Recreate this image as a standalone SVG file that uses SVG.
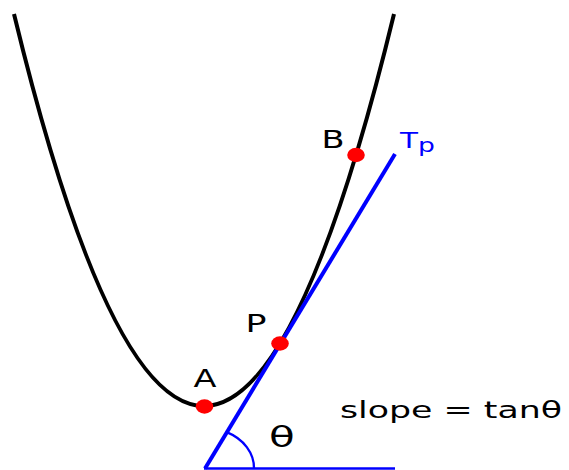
<svg xmlns="http://www.w3.org/2000/svg" width="569" height="470" viewBox="0 0 569 470">
<style>
.lbl{font-family:"DejaVu Sans","Liberation Sans",sans-serif;font-size:24px;fill:#000}
.blue{fill:#0000ff}
.curve{fill:none;stroke:#000;stroke-width:4}
.tan{fill:none;stroke:#0000ff;stroke-width:4}
.thin{fill:none;stroke:#0000ff;stroke-width:2.3}
.dot{fill:#ff0000}
</style>
<rect width="569" height="470" fill="#fff"/>
<g id="connectors">
<path id="parabola" class="curve" d="M14 14 Q204 798 394 14"/>
<line id="tangent" class="tan" x1="205" y1="468.5" x2="395" y2="154"/>
<line id="baseline" class="thin" x1="204" y1="468.5" x2="395" y2="468.5"/>
<path id="angle-arc" class="thin" d="M254 468.5 A49 40 0 0 0 226.7 432.1"/>
</g>
<g id="A"><ellipse class="dot" cx="204.5" cy="406.5" rx="8.8" ry="7.2"/><text class="lbl" transform="translate(193.5,387) scale(1.4,1)">A</text></g>
<g id="P"><ellipse class="dot" cx="280" cy="343.5" rx="8.8" ry="7.2"/><text class="lbl" transform="translate(245.5,332) scale(1.45,1)">P</text></g>
<g id="B"><ellipse class="dot" cx="356" cy="155" rx="8.8" ry="7.2"/><text class="lbl" transform="translate(321.5,147.5) scale(1.4,1)">B</text></g>
<g id="Tp"><text class="lbl blue" transform="translate(400,148) scale(1.4,1)" style="font-size:21px">T</text><text class="lbl blue" transform="translate(418,152) scale(1.4,1)" style="font-size:19px">p</text></g>
<g id="theta"><text class="lbl" transform="translate(269,447.4) scale(1.5,1)" style="font-size:28px">θ</text></g>
<g id="slope"><text class="lbl" transform="translate(340,418) scale(1.48,1)" style="font-size:23.5px">slope = tanθ</text></g>
</svg>
